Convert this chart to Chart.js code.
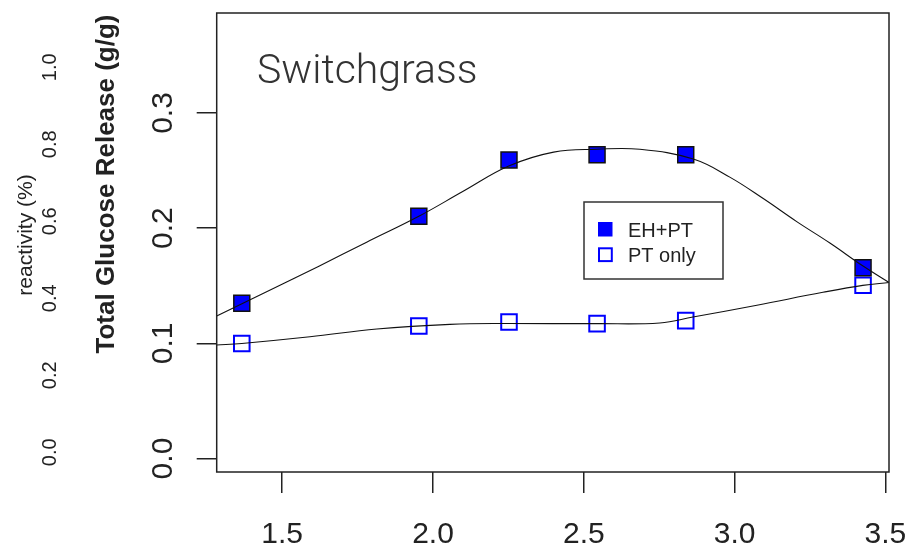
<!DOCTYPE html>
<html>
<head>
<meta charset="utf-8">
<script src="https://cdn.jsdelivr.net/npm/chart.js@4.4.0/dist/chart.umd.min.js"></script>
<style>
  html, body { margin: 0; padding: 0; background: #fff; }
  #wrap { width: 918px; height: 549px; }
</style>
</head>
<body>
<div id="wrap"><canvas id="chart" width="918" height="549"></canvas></div>
<script>
// measured points
const xValues = [1.366, 1.953, 2.252, 2.544, 2.838, 3.426];
const ehPt = [0.1348, 0.2103, 0.2591, 0.2637, 0.2637, 0.1657];
const ptOnly = [0.0999, 0.1151, 0.1185, 0.1171, 0.1197, 0.1505];

// smooth fit curves
const ehFitX = [1.2828, 1.45, 1.62, 1.78, 1.953, 2.10, 2.251, 2.40, 2.543, 2.686, 2.863, 2.984, 3.095, 3.206, 3.316, 3.426, 3.512];
const ehFitY = [0.1237, 0.1450, 0.1668, 0.1878, 0.2103, 0.2320, 0.2539, 0.2660, 0.2685, 0.2685, 0.2600, 0.2443, 0.2257, 0.2057, 0.1871, 0.1671, 0.1528];
const ptFitX = [1.2828, 1.366, 1.592, 1.814, 2.056, 2.248, 2.543, 2.752, 2.862, 3.074, 3.293, 3.425, 3.512];
const ptFitY = [0.0986, 0.0999, 0.1057, 0.1125, 0.1165, 0.1172, 0.1171, 0.1177, 0.1228, 0.1331, 0.1443, 0.1503, 0.1528];

// axis ticks
const xTicks = [1.5, 2.0, 2.5, 3.0, 3.5];
const yTicks = [0.0, 0.1, 0.2, 0.3];
const reactTicks = [0.0, 0.2, 0.4, 0.6, 0.8, 1.0];

const toPoints = (xs, ys) => xs.map((x, i) => ({ x: x, y: ys[i] }));
const ink = '#222';
const sans = '"Liberation Sans", Arial, sans-serif';

function rotText(ctx, text, x, y) {
    ctx.save();
    ctx.translate(x, y);
    ctx.rotate(-Math.PI / 2);
    ctx.fillText(text, 0, 0);
    ctx.restore();
}

// box, tick labels, titles and legend
const decorations = {
    id: 'decorations',
    afterDraw(chart) {
        const { ctx, chartArea: a, scales } = chart;
        ctx.save();
        ctx.strokeStyle = ink;
        ctx.lineWidth = 1.5;
        ctx.strokeRect(a.left, a.top, a.right - a.left, a.bottom - a.top);

        ctx.fillStyle = ink;
        ctx.textAlign = 'center';
        ctx.textBaseline = 'alphabetic';

        // x tick labels
        ctx.font = '30px ' + sans;
        xTicks.forEach(v => ctx.fillText(v.toFixed(1), scales.x.getPixelForValue(v), 543));

        // y tick labels
        yTicks.forEach(v => rotText(ctx, v.toFixed(1), 172, scales.y.getPixelForValue(v)));

        // second (reactivity) labels
        ctx.font = '20px ' + sans;
        reactTicks.forEach(v => rotText(ctx, v.toFixed(1), 56, scales.y2.getPixelForValue(v)));
        ctx.font = '21px ' + sans;
        rotText(ctx, 'reactivity (%)', 32, 235);

        // main y title
        ctx.font = 'bold 26px ' + sans;
        rotText(ctx, 'Total Glucose Release (g/g)', 114, 184);

        // panel title
        ctx.textAlign = 'left';
        ctx.fillStyle = '#333';
        ctx.font = '300 41px Roboto, sans-serif';
        ctx.fillText('Switchgrass', 257, 83);

        // legend
        ctx.fillStyle = '#fff';
        ctx.fillRect(584, 202, 139, 77);
        ctx.strokeStyle = '#333';
        ctx.lineWidth = 1.5;
        ctx.strokeRect(584, 202, 139, 77);
        ctx.fillStyle = '#0000ff';
        ctx.fillRect(598, 222, 14.5, 14.5);
        ctx.strokeStyle = '#0000ff';
        ctx.lineWidth = 2;
        ctx.strokeRect(599, 248.3, 12.8, 12.8);
        ctx.fillStyle = ink;
        ctx.font = '20px ' + sans;
        ctx.fillText('EH+PT', 628, 237);
        ctx.fillText('PT only', 628, 262);
        ctx.restore();
    }
};

new Chart(document.getElementById('chart'), {
    type: 'scatter',
    data: {
        datasets: [
            {
                label: 'EH+PT fit',
                data: toPoints(ehFitX, ehFitY),
                showLine: true,
                pointRadius: 0,
                borderColor: '#111',
                borderWidth: 1.1,
                tension: 0.4,
                order: 0
            },
            {
                label: 'PT only fit',
                data: toPoints(ptFitX, ptFitY),
                showLine: true,
                pointRadius: 0,
                borderColor: '#111',
                borderWidth: 1.1,
                tension: 0.4,
                order: 0
            },
            {
                label: 'EH+PT',
                data: toPoints(xValues, ehPt),
                pointStyle: 'rect',
                pointRadius: 11.3,
                backgroundColor: '#0000ff',
                borderColor: '#111',
                borderWidth: 1.5,
                order: 1
            },
            {
                label: 'PT only',
                data: toPoints(xValues, ptOnly),
                pointStyle: 'rect',
                pointRadius: 11,
                backgroundColor: 'rgba(0,0,0,0)',
                borderColor: '#0000ff',
                borderWidth: 2,
                order: 1
            }
        ]
    },
    options: {
        responsive: false,
        animation: false,
        events: [],
        layout: { padding: { top: 7, right: 29, left: 0, bottom: 0 } },
        plugins: { legend: { display: false }, tooltip: { enabled: false } },
        scales: {
            x: {
                type: 'linear',
                min: 1.2828,
                max: 3.512,
                afterFit: s => { s.height = 77; },
                afterBuildTicks: s => { s.ticks = xTicks.map(v => ({ value: v })); },
                border: { display: false },
                grid: { drawOnChartArea: false, drawTicks: true, tickLength: 21, color: ink, lineWidth: 1.5 },
                ticks: { display: false }
            },
            y: {
                type: 'linear',
                min: -0.0117,
                max: 0.3868,
                afterFit: s => { s.width = 216.7; },
                afterBuildTicks: s => { s.ticks = yTicks.map(v => ({ value: v })); },
                border: { display: false },
                grid: { drawOnChartArea: false, drawTicks: true, tickLength: 20, color: ink, lineWidth: 1.5 },
                ticks: { display: false }
            },
            y2: {
                type: 'linear',
                display: false,
                min: -0.0513,
                max: 1.141
            }
        }
    },
    plugins: [decorations]
});
</script>
</body>
</html>
